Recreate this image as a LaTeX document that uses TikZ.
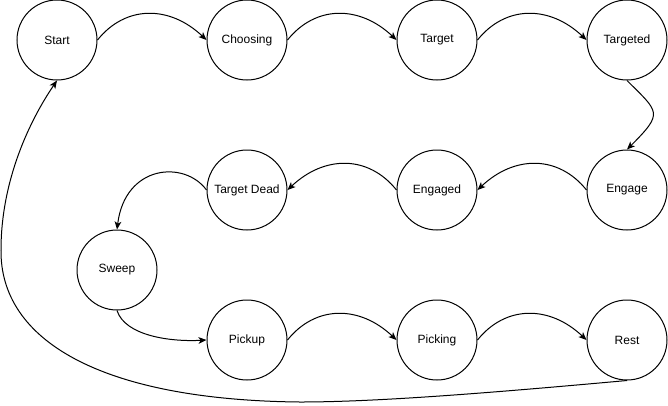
\documentclass[tikz,border=0pt]{standalone}
\usepackage{fontspec}
\setmainfont{Liberation Sans}
\usetikzlibrary{arrows.meta}
\begin{document}
\begin{tikzpicture}[x=0.75pt,y=-0.75pt,
  state/.style={circle,draw,line width=0.75pt,minimum size=60pt,inner sep=0pt,font=\fontsize{9pt}{11pt}\selectfont},
  conn/.style={line width=0.75pt,-{Stealth[length=6pt,width=5pt,inset=1.6pt]}}]
\useasboundingbox (0,0) rectangle (668,405);
\node[state] (start) at (57,40) {Start};
\node[state] (choosing) at (247,40) {Choosing};
\node[state] (target) at (437,40) {Target};
\node[state] (targeted) at (627,40) {Targeted};
\node[state] (engage) at (627,190) {Engage};
\node[state] (engaged) at (437,190) {Engaged};
\node[state] (dead) at (247,190) {Target Dead};
\node[state] (sweep) at (117,270) {Sweep};
\node[state] (pickup) at (247,340) {Pickup};
\node[state] (picking) at (437,340) {Picking};
\node[state] (rest) at (627,340) {Rest};
\draw[conn] (start.east) .. controls +(28,-35) and +(-37,-35) .. (choosing.west);
\draw[conn] (choosing.east) .. controls +(28,-35) and +(-37,-35) .. (target.west);
\draw[conn] (target.east) .. controls +(28,-35) and +(-37,-35) .. (targeted.west);
\draw[conn] (targeted.south) .. controls +(32,32) and +(37,-37) .. (engage.north);
\draw[conn] (engage.west) .. controls +(-28,-35) and +(37,-35) .. (engaged.east);
\draw[conn] (engaged.west) .. controls +(-28,-35) and +(37,-35) .. (dead.east);
\draw[conn] (dead.west) .. controls +(-22,-30) and +(8,-65) .. (sweep.north);
\draw[conn] (sweep.south) .. controls +(8,25) and +(-37,2) .. (pickup.west);
\draw[conn] (pickup.east) .. controls +(28,-35) and +(-37,-35) .. (picking.west);
\draw[conn] (picking.east) .. controls +(28,-35) and +(-37,-35) .. (rest.west);
\draw[conn] (rest.south) .. controls (500,392) and (380,402) .. (300,402)
  .. controls (100,400) and (0,340) .. (1,250)
  .. controls (1,180) and (30,120) .. (start.south);
\end{tikzpicture}
\end{document}
